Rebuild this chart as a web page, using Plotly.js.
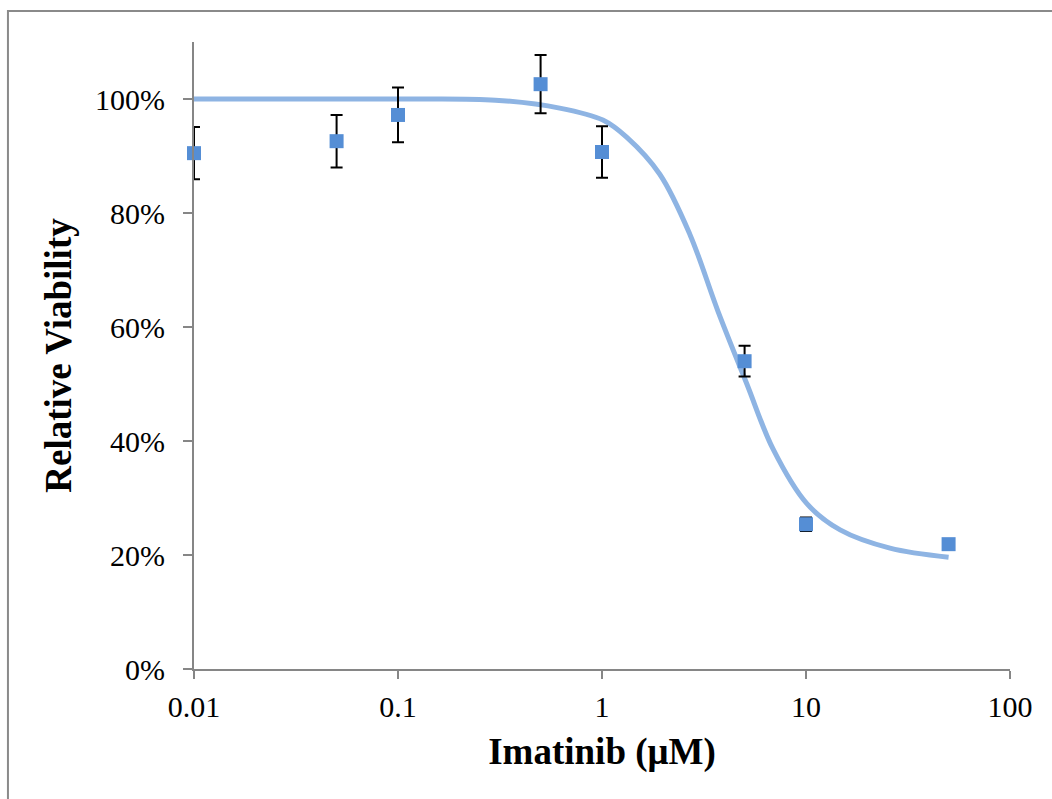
<!DOCTYPE html>
<html>
<head>
<meta charset="utf-8">
<script src="https://cdn.plot.ly/plotly-3.0.1.min.js"></script>
<style>
html,body{margin:0;padding:0;background:#fff;}
#chart{width:1052px;height:799px;}
</style>
</head>
<body>
<div id="chart"></div>
<script>
// Measured data (Imatinib concentration in µM, relative viability)
const conc = [0.01, 0.05, 0.1, 0.5, 1, 5, 10, 50];
const viability = [0.905, 0.926, 0.972, 1.026, 0.907, 0.540, 0.254, 0.219];
const errors = [0.046, 0.046, 0.048, 0.051, 0.045, 0.027, 0.012, 0.006];

// Fitted dose-response curve
const fitX = [0.01, 0.1, 0.3, 0.62, 1.01, 1.32, 1.92, 2.70, 3.7, 5.13, 6.89, 10.1, 14.7, 25.8, 50];
const fitY = [1.0, 1.0, 0.998, 0.984, 0.963, 0.933, 0.868, 0.762, 0.628, 0.500, 0.386, 0.290, 0.244, 0.212, 0.196];

const xTickVals = [0.01, 0.1, 1, 10, 100];
const xTickText = ['0.01', '0.1', '1', '10', '100'];
const yTickVals = [0, 0.2, 0.4, 0.6, 0.8, 1.0];
const yTickText = ['0%', '20%', '40%', '60%', '80%', '100%'];

const serif = 'Liberation Serif, Times New Roman, serif';

const traces = [
  {
    x: fitX, y: fitY, type: 'scatter', mode: 'lines',
    line: {color: '#8eb4e3', width: 5, shape: 'spline', smoothing: 1},
    hoverinfo: 'skip', showlegend: false
  },
  {
    x: conc, y: viability, type: 'scatter', mode: 'markers',
    marker: {symbol: 'square', size: 14, color: '#558ed5'},
    error_y: {type: 'data', array: errors, visible: true, color: '#000000', thickness: 2, width: 6},
    cliponaxis: false,
    showlegend: false
  }
];

const layout = {
  width: 1052, height: 799,
  margin: {l: 194, r: 42, t: 42, b: 130},
  paper_bgcolor: '#ffffff', plot_bgcolor: '#ffffff',
  font: {family: serif, color: '#000000', size: 30},
  xaxis: {
    type: 'log', range: [-2, 2],
    tickvals: xTickVals, ticktext: xTickText,
    showgrid: false, zeroline: false,
    showline: true, linecolor: '#868686', linewidth: 2,
    ticks: 'outside', ticklen: 8, tickwidth: 2, tickcolor: '#868686',
    ticklabelstandoff: 2,
    tickfont: {family: serif, size: 30, color: '#000'},
    title: {text: '<b>Imatinib (μM)</b>', font: {family: serif, size: 37, color: '#000'}, standoff: 16}
  },
  yaxis: {
    range: [0, 1.1],
    tickvals: yTickVals, ticktext: yTickText,
    showgrid: false, zeroline: false,
    showline: true, linecolor: '#868686', linewidth: 2,
    ticks: 'outside', ticklen: 9, tickwidth: 2, tickcolor: '#868686',
    ticklabelstandoff: 12,
    tickfont: {family: serif, size: 30, color: '#000'},
    title: {text: '<b>Relative Viability</b>', font: {family: serif, size: 37, color: '#000'}, standoff: 12}
  },
  shapes: [{
    type: 'rect', xref: 'paper', yref: 'paper',
    x0: -0.228, x1: 1.08, y0: -0.25, y1: 1.0494,
    line: {color: '#8a8a8a', width: 2}, fillcolor: 'rgba(0,0,0,0)', layer: 'below'
  }]
};

Plotly.newPlot('chart', traces, layout, {displayModeBar: false, staticPlot: true});
</script>
</body>
</html>
